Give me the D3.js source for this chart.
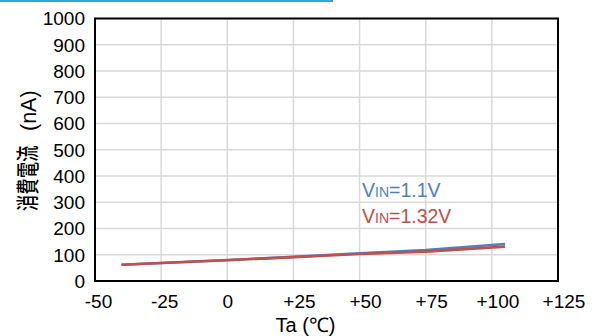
<!DOCTYPE html>
<html><head><meta charset="utf-8">
<script src="https://cdn.jsdelivr.net/npm/d3@7"></script>
<style>body{margin:0;background:#fff}svg{display:block}</style>
</head><body>
<svg id="c" width="601" height="336"></svg>
<script>
const temps = [-40, 0, 25, 50, 75, 105];
const vin11 = [62, 79, 92, 106, 118, 141];
const vin132 = [62, 80, 91, 103, 112, 131];
const xTicks = [-50, -25, 0, 25, 50, 75, 100, 125];
const xTickLabels = ["-50", "-25", "0", "+25", "+50", "+75", "+100", "+125"];
const yTicks = [0, 100, 200, 300, 400, 500, 600, 700, 800, 900, 1000];
const seriesNames = ["=1.1V", "=1.32V"];

const svg = d3.select("#c");
const font = "'Liberation Sans', Arial, sans-serif";
const L = 95, R = 558, T = 18.5, B = 281;
const x = d3.scaleLinear().domain([-50, 125]).range([L, R]);
const y = d3.scaleLinear().domain([0, 1000]).range([B, T]);

svg.append("rect").attr("x", 0).attr("y", 0).attr("width", 333).attr("height", 2).attr("fill", "#2aa8e0");

// grid
svg.append("g").selectAll("line").data(yTicks).join("line")
  .attr("x1", L).attr("x2", R).attr("y1", d => y(d)).attr("y2", d => y(d))
  .attr("stroke", "#d9d9d9").attr("stroke-width", 1.5);
svg.append("g").selectAll("line").data(xTicks).join("line")
  .attr("y1", T).attr("y2", B).attr("x1", d => x(d)).attr("x2", d => x(d))
  .attr("stroke", "#d9d9d9").attr("stroke-width", 1.5);

// axes labels via d3 axes
const yAxis = svg.append("g").attr("transform", `translate(${L},0)`)
  .call(d3.axisLeft(y).tickValues(yTicks).tickSize(0).tickPadding(10).tickFormat(d => String(d)));
yAxis.select(".domain").remove();
yAxis.selectAll("text").attr("font-family", font).attr("font-size", 19).attr("fill", "#000").attr("dy", "0.34em");

const xAxis = svg.append("g").attr("transform", `translate(0,${B})`)
  .call(d3.axisBottom(x).tickValues(xTicks).tickSize(0).tickPadding(14).tickFormat((d, i) => xTickLabels[i]));
xAxis.select(".domain").remove();
xAxis.selectAll("text").attr("font-family", font).attr("font-size", 19).attr("fill", "#000")
  .attr("dx", function(d, i) {
    const s = xTickLabels[i];
    if (s[0] === "+") return 5.5;
    if (s[0] === "-") return 3;
    return 0;
  });

// lines
const line = d3.line().x((d, i) => x(temps[i])).y(d => y(d));
svg.append("path").datum(vin11).attr("d", line).attr("fill", "none").attr("stroke", "#4f81bd").attr("stroke-width", 2.6);
svg.append("path").datum(vin132).attr("d", line).attr("fill", "none").attr("stroke", "#c0504d").attr("stroke-width", 2.6);

// border
svg.append("rect").attr("x", L).attr("y", T).attr("width", R - L).attr("height", B - T)
  .attr("fill", "none").attr("stroke", "#000").attr("stroke-width", 2);

// legend labels
const leg = [[seriesNames[0], "#4f81bd", 197], [seriesNames[1], "#c0504d", 223]];
leg.forEach(([t, c, yy]) => {
  const tx = svg.append("text").attr("x", 362).attr("y", yy).attr("font-family", font).attr("font-size", 19.5).attr("fill", c);
  tx.append("tspan").text("V");
  tx.append("tspan").attr("font-size", 14).text("IN");
  tx.append("tspan").text(t);
});

// axis titles
svg.append("text").attr("x", 305.5).attr("y", 332).attr("text-anchor", "middle")
  .attr("font-family", font).attr("font-size", 20).text("Ta (℃)");

// y title: CJK part (condensed along the text) and Latin part
svg.append("text").attr("transform", "translate(36,211) rotate(-90) scale(0.7,1)")
  .attr("text-anchor", "start").attr("font-family", "'Noto Sans CJK JP', sans-serif")
  .attr("font-size", 23).attr("font-weight", 500).attr("letter-spacing", 0.5).text("消費電流");
svg.append("text").attr("transform", "translate(36,131) rotate(-90)")
  .attr("text-anchor", "start").attr("font-family", font)
  .attr("font-size", 21.5).text("(nA)");
</script>
</body></html>
